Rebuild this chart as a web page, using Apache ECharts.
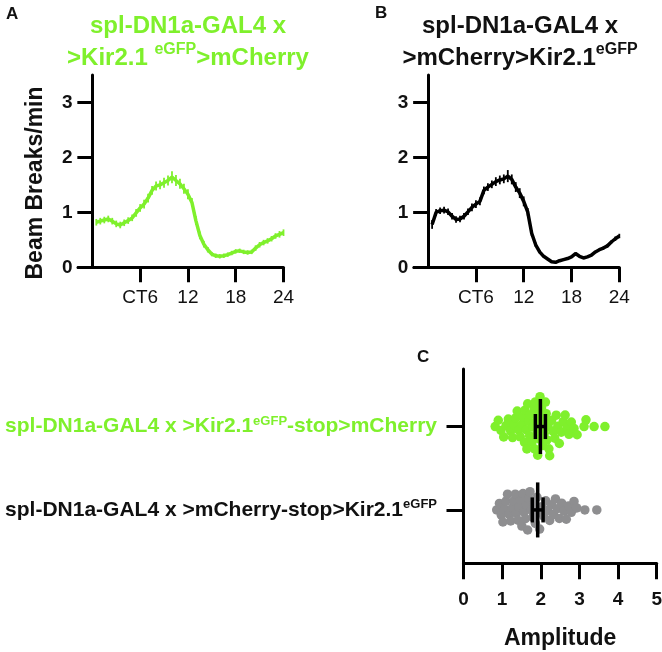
<!DOCTYPE html>
<html><head><meta charset="utf-8">
<script src="https://cdn.jsdelivr.net/npm/echarts@6/dist/echarts.min.js"></script>
<style>html,body{margin:0;padding:0;background:#fff}#c{width:662px;height:652px}</style>
</head><body><div id="c"></div>
<script>
// ---------- data ----------
const hours = [0.5,1,1.5,2,2.5,3,3.5,4,4.5,5,5.5,6,6.5,7,7.5,8,8.5,9,9.5,10,10.5,11,11.5,12,12.5,13,13.5,14,14.5,15,15.5,16,16.5,17,17.5,18,18.5,19,19.5,20,20.5,21,21.5,22,22.5,23,23.5,24];
const activityKir = [0.82,0.84,0.86,0.88,0.84,0.79,0.77,0.81,0.85,0.90,0.99,1.08,
  1.15,1.26,1.40,1.48,1.50,1.54,1.58,1.64,1.58,1.52,1.43,1.33,
  1.18,0.85,0.58,0.42,0.32,0.24,0.21,0.20,0.21,0.23,0.26,0.29,
  0.30,0.28,0.27,0.28,0.35,0.41,0.45,0.48,0.52,0.57,0.60,0.63];
const semKir = [0.06,0.06,0.06,0.06,0.06,0.06,0.06,0.06,0.06,0.06,0.07,0.07,
  0.08,0.08,0.08,0.08,0.08,0.09,0.09,0.11,0.10,0.09,0.09,0.09,
  0.08,0.08,0.07,0.06,0.05,0.04,0.04,0.04,0.04,0.04,0.04,0.04,
  0.04,0.04,0.04,0.04,0.05,0.05,0.05,0.05,0.05,0.05,0.06,0.06];
const activityCtrl = [0.78,1.00,1.03,1.04,1.01,0.93,0.87,0.88,0.93,1.01,1.09,1.15,
  1.20,1.40,1.46,1.51,1.56,1.59,1.61,1.66,1.60,1.46,1.35,1.20,
  1.01,0.62,0.41,0.28,0.20,0.15,0.10,0.09,0.12,0.14,0.16,0.19,
  0.25,0.20,0.17,0.19,0.22,0.28,0.32,0.35,0.39,0.46,0.52,0.57];
const semCtrl = [0.08,0.06,0.06,0.06,0.06,0.06,0.06,0.06,0.06,0.06,0.07,0.07,
  0.07,0.07,0.07,0.07,0.08,0.08,0.08,0.11,0.09,0.09,0.09,0.09,
  0.07,0.05,0.04,0.03,0.02,0.02,0.02,0.02,0.02,0.02,0.02,0.02,
  0.02,0.02,0.02,0.02,0.02,0.02,0.02,0.03,0.03,0.03,0.04,0.04];
const xTickValues = [6,12,18,24];
const xTickLabels = ['CT6','12','18','24'];
const yTickValues = [0,1,2,3];

const amplitudeKir = [0.82,0.90,0.97,
  1.04,1.10,1.16,1.22,
  1.27,1.31,1.35,1.39,1.43,1.47,
  1.52,1.55,1.58,1.59,1.62,1.64,1.66,1.69,1.71,1.73,
  1.77,1.80,1.83,1.84,1.86,1.89,1.91,1.92,1.95,1.97,1.98,2.00,
  2.02,2.05,2.07,2.09,2.12,2.14,2.16,2.19,2.21,2.23,
  2.28,2.32,2.36,2.40,2.44,2.48,
  2.53,2.58,2.63,2.68,2.73,
  2.79,2.86,2.94,
  3.12,3.17,3.38,3.66];
const amplitudeCtrl = [0.86,0.93,0.98,
  1.02,1.06,1.10,1.14,1.18,1.22,
  1.26,1.30,1.34,1.37,1.41,1.44,1.48,
  1.51,1.54,1.57,1.60,1.63,1.66,1.69,1.72,
  1.76,1.79,1.83,1.86,1.90,1.93,1.97,
  2.03,2.08,2.13,2.18,2.23,
  2.28,2.33,2.38,2.43,2.48,
  2.54,2.60,2.66,2.72,
  2.79,2.86,2.93,
  3.14,3.45];
const amplitudeMean = [1.99, 1.92];   // Kir, Ctrl
const amplitudeErr = [0.13, 0.14];
const groupRow = [2, 1];              // Kir row, Ctrl row
const ampTicks = [0,1,2,3,4,5];

// ---------- style ----------
const FONT = '"Liberation Sans", Arial, Helvetica, sans-serif';
const GREEN = '#7ff02c';
const GRAY = '#8e8e90';
const BLACK = '#000';
const TXT = '#111';

function errSeries(xi, vals, errs, color) {
  return {
    type: 'custom', xAxisIndex: xi, yAxisIndex: xi, silent: true, z: 3,
    data: hours.map((h, i) => [h, vals[i] - errs[i], vals[i] + errs[i]]),
    renderItem: (params, api) => {
      const lo = api.coord([api.value(0), api.value(1)]);
      const hi = api.coord([api.value(0), api.value(2)]);
      return {type: 'line', shape: {x1: lo[0], y1: lo[1], x2: hi[0], y2: hi[1]},
        style: {stroke: color, lineWidth: 1.8}};
    }
  };
}

const gridC = {left: 463.5, top: 369, width: 193.2, height: 194.3};
const yMinC = 0.36, yMaxC = 2.69;

function swarm(values, base) {
  const sx = gridC.width / 5, sy = gridC.height / (yMaxC - yMinC), d = 7;
  const sorted = values.slice().sort((a, b) => a - b);
  const placed = [], out = [];
  for (const v of sorted) {
    const px = v * sx;
    const cands = [0];
    for (const p of placed) {
      const dx = px - p[0];
      if (Math.abs(dx) < d) {
        const dy = Math.sqrt(d * d - dx * dx);
        cands.push(p[1] + dy, p[1] - dy);
      }
    }
    cands.sort((a, b) => Math.abs(a) - Math.abs(b));
    let oy = 0;
    for (const c of cands) {
      if (placed.every(p => (px - p[0]) ** 2 + (c - p[1]) ** 2 >= d * d - 0.01)) { oy = c; break; }
    }
    placed.push([px, oy]);
    out.push([v, base + oy / sy]);
  }
  return out;
}

function tsAxisX(gi) {
  return {
    gridIndex: gi, type: 'value', min: -1.8, max: 24,
    axisLine: {show: true, onZero: true, lineStyle: {color: BLACK, width: 3}},
    axisTick: {show: true, customValues: xTickValues, length: 15, lineStyle: {color: BLACK, width: 3}},
    axisLabel: {show: true, customValues: xTickValues, margin: 21,
      formatter: v => xTickLabels[xTickValues.indexOf(v)],
      fontSize: 19, fontFamily: FONT, color: TXT},
    splitLine: {show: false}
  };
}
function tsAxisY(gi) {
  return {
    gridIndex: gi, type: 'value', min: 0, max: 3.5,
    axisLine: {show: true, onZero: true, lineStyle: {color: BLACK, width: 3}},
    axisTick: {show: true, customValues: yTickValues, length: 15, lineStyle: {color: BLACK, width: 3}},
    axisLabel: {show: true, customValues: yTickValues, margin: 5.5,
      fontSize: 19, fontWeight: 'bold', fontFamily: FONT, color: TXT},
    splitLine: {show: false}
  };
}

const chart = echarts.init(document.getElementById('c'), null, {renderer: 'canvas'});
const titleRich = (color, sz) => ({
  m: {fontSize: 24, fontWeight: 'bold', fontFamily: FONT, fill: color, lineHeight: 32},
  s: {fontSize: 16, fontWeight: 'bold', fontFamily: FONT, fill: color, lineHeight: sz, verticalAlign: 'top'}
});

chart.setOption({
  animation: false,
  backgroundColor: '#fff',
  grid: [
    {left: 78, top: 75, width: 205.5, height: 192.3, outerBoundsMode: 'none'},
    {left: 413.8, top: 75, width: 205.5, height: 192.3, outerBoundsMode: 'none'},
    Object.assign({outerBoundsMode: 'none'}, gridC)
  ],
  xAxis: [
    tsAxisX(0), tsAxisX(1),
    {
      gridIndex: 2, type: 'value', min: 0, max: 5, interval: 1,
      axisLine: {show: true, onZero: false, lineStyle: {color: BLACK, width: 3}},
      axisTick: {show: true, customValues: ampTicks, length: 16, lineStyle: {color: BLACK, width: 3}},
      axisLabel: {show: true, customValues: ampTicks, margin: 27, fontSize: 19, fontWeight: 'bold', fontFamily: FONT, color: TXT},
      splitLine: {show: false},
      name: 'Amplitude', nameLocation: 'middle', nameGap: 64,
      nameTextStyle: {fontSize: 23, fontWeight: 'bold', fontFamily: FONT, color: TXT}
    }
  ],
  yAxis: [
    tsAxisY(0), tsAxisY(1),
    {
      gridIndex: 2, type: 'value', min: yMinC, max: yMaxC,
      axisLine: {show: true, onZero: true, lineStyle: {color: BLACK, width: 3}},
      axisTick: {show: true, customValues: [1, 2], length: 17, lineStyle: {color: BLACK, width: 3}},
      axisLabel: {
        show: true, customValues: [1, 2], margin: 26.5,
        formatter: v => v === 2
          ? '{g|spl-DN1a-GAL4 x >Kir2.1}{gs|eGFP}{g|-stop>mCherry}'
          : '{k|spl-DN1a-GAL4 x >mCherry-stop>Kir2.1}{ks|eGFP}',
        rich: {
          g: {fontSize: 21, fontWeight: 'bold', fontFamily: FONT, color: GREEN, lineHeight: 24},
          gs: {fontSize: 13, fontWeight: 'bold', fontFamily: FONT, color: GREEN, lineHeight: 17, verticalAlign: 'top'},
          k: {fontSize: 21, fontWeight: 'bold', fontFamily: FONT, color: TXT, lineHeight: 24},
          ks: {fontSize: 13, fontWeight: 'bold', fontFamily: FONT, color: TXT, lineHeight: 17, verticalAlign: 'top'}
        }
      },
      splitLine: {show: false}
    }
  ],
  series: [
    {type: 'line', xAxisIndex: 0, yAxisIndex: 0, data: hours.map((h, i) => [h, activityKir[i]]),
      showSymbol: false, lineStyle: {color: GREEN, width: 3.5}, itemStyle: {color: GREEN}, z: 4},
    errSeries(0, activityKir, semKir, GREEN),
    {type: 'line', xAxisIndex: 1, yAxisIndex: 1, data: hours.map((h, i) => [h, activityCtrl[i]]),
      showSymbol: false, lineStyle: {color: BLACK, width: 3.5}, itemStyle: {color: BLACK}, z: 4},
    errSeries(1, activityCtrl, semCtrl, BLACK),
    {type: 'scatter', xAxisIndex: 2, yAxisIndex: 2, data: swarm(amplitudeKir, groupRow[0]),
      symbolSize: 9.5, itemStyle: {color: GREEN, opacity: 1}, z: 2},
    {type: 'scatter', xAxisIndex: 2, yAxisIndex: 2, data: swarm(amplitudeCtrl, groupRow[1]),
      symbolSize: 9.5, itemStyle: {color: GRAY, opacity: 1}, z: 2},
    {
      type: 'custom', xAxisIndex: 2, yAxisIndex: 2, silent: true, z: 5,
      data: amplitudeMean.map((m, i) => [m, groupRow[i], amplitudeErr[i]]),
      renderItem: (params, api) => {
        const m = api.value(0), b = api.value(1), e = api.value(2);
        const t = api.coord([m, b + 0.33]), bt = api.coord([m, b - 0.33]);
        const l = api.coord([m - e, b]), r = api.coord([m + e, b]);
        const ct = api.coord([m, b + 0.15]), cb = api.coord([m, b - 0.15]);
        const st = {stroke: BLACK, lineWidth: 3.5};
        return {type: 'group', children: [
          {type: 'line', shape: {x1: t[0], y1: t[1], x2: bt[0], y2: bt[1]}, style: st},
          {type: 'line', shape: {x1: l[0], y1: l[1], x2: r[0], y2: r[1]}, style: st},
          {type: 'line', shape: {x1: l[0], y1: ct[1], x2: l[0], y2: cb[1]}, style: st},
          {type: 'line', shape: {x1: r[0], y1: ct[1], x2: r[0], y2: cb[1]}, style: st}
        ]};
      }
    }
  ],
  graphic: [
    {type: 'text', x: 6, y: 6, style: {text: 'A', fontSize: 17, fontWeight: 'bold', fontFamily: FONT, fill: TXT}},
    {type: 'text', x: 375, y: 5, style: {text: 'B', fontSize: 17, fontWeight: 'bold', fontFamily: FONT, fill: TXT}},
    {type: 'text', x: 417, y: 349, style: {text: 'C', fontSize: 17, fontWeight: 'bold', fontFamily: FONT, fill: TXT}},
    {type: 'text', x: 188, y: 10, style: {
      text: '{m|spl-DN1a-GAL4 x}\n{m|>Kir2.1 }{s|eGFP}{m|>mCherry}',
      align: 'center', verticalAlign: 'top', rich: titleRich(GREEN, 18)}},
    {type: 'text', x: 520, y: 10, style: {
      text: '{m|spl-DN1a-GAL4 x}\n{m|>mCherry>Kir2.1}{s|eGFP}',
      align: 'center', verticalAlign: 'top', rich: titleRich(TXT, 8)}},
    {type: 'text', x: 36, y: 183, rotation: Math.PI / 2, style: {
      text: 'Beam Breaks/min', align: 'center', verticalAlign: 'middle',
      fontSize: 23, fontWeight: 'bold', fontFamily: FONT, fill: TXT}}
  ]
});
</script>
</body></html>
